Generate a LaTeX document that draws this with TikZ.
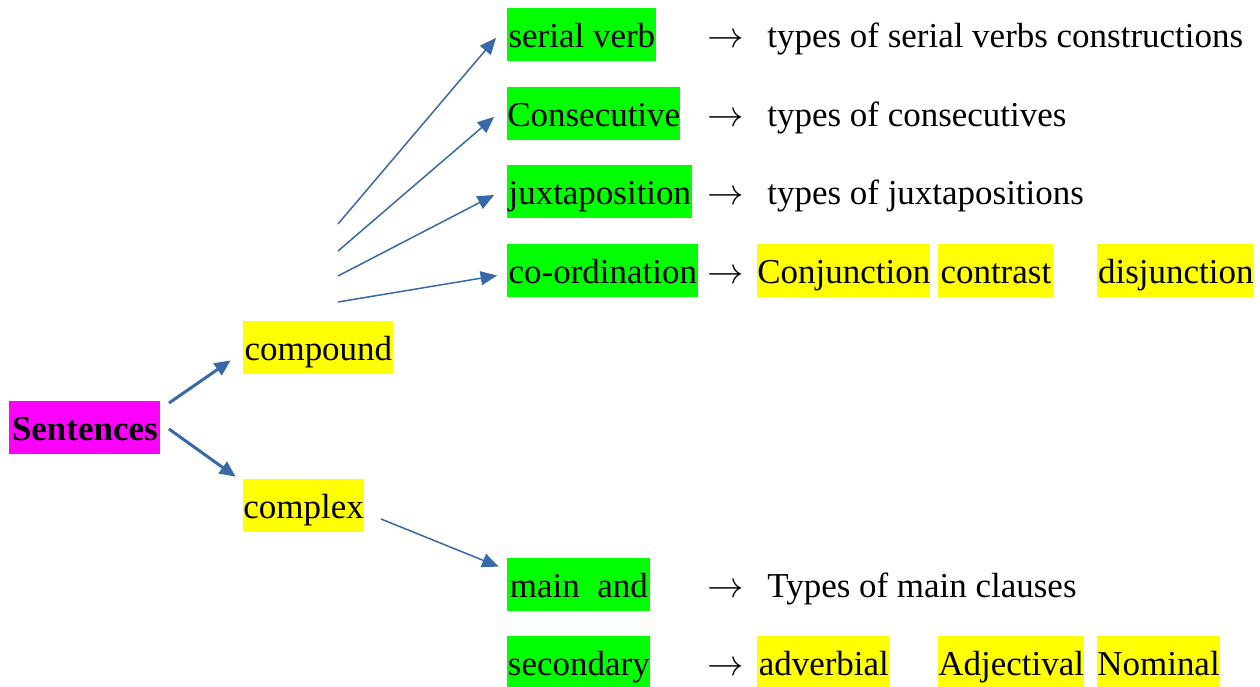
\documentclass[tikz,border=0pt]{standalone}
\usepackage{fontspec}
\setmainfont{Liberation Serif}
\usetikzlibrary{arrows.meta,calc}
\definecolor{linkblue}{RGB}{55,105,170}
\definecolor{hlyellow}{RGB}{255,255,0}
\definecolor{hlgreen}{RGB}{0,255,0}
\definecolor{hlmagenta}{RGB}{255,0,255}
\begin{document}
\begin{tikzpicture}[x=0.02cm,y=-0.02cm,
  font=\fontsize{19.9pt}{24pt}\selectfont,
  hbox/.style={anchor=north west,inner sep=0pt,minimum height=1.06cm,
    text height=0.79cm,text depth=0.27cm},
  ybox/.style={hbox,fill=hlyellow},
  gbox/.style={hbox,fill=hlgreen},
  mbox/.style={hbox,fill=hlmagenta,font=\fontsize{19.9pt}{24pt}\selectfont\bfseries},
  plain/.style={anchor=base west,inner sep=0pt},
  sym/.style={anchor=base,inner sep=0pt},
  bigarrow/.style={draw=linkblue,line width=1.7pt,
    -{Triangle[length=0.32cm,width=0.28cm]}},
  thinarrow/.style={draw=linkblue,line width=0.85pt,
    -{Triangle[length=0.33cm,width=0.28cm]}}]
\useasboundingbox (0,0) rectangle (1260,686);

% root and first level
\node[mbox,minimum width=151*0.02cm] (st) at (9,401) {Sentences};
\node[ybox,minimum width=150*0.02cm] (cp) at (243,321) {compound};
\node[ybox,minimum width=120*0.02cm] (cx) at (243,479) {complex};

% compound sentence types
\node[gbox,minimum width=149*0.02cm] (sv) at (507,8) {serial verb};
\node[gbox,minimum width=171*0.02cm] (cs) at (507,87) {Consecutive};
\node[gbox,minimum width=185*0.02cm] (jx) at (507,165) {juxtaposition};
\node[gbox,minimum width=191*0.02cm] (co) at (507,244) {co-ordination};

% complex sentence types
\node[gbox,minimum width=143*0.02cm] (ma) at (507,558) {main~ and};
\node[gbox,minimum width=143*0.02cm] (sc) at (507,636) {secondary};

% co-ordination kinds
\node[ybox,minimum width=173*0.02cm] (cj) at (757,244) {Conjunction};
\node[ybox,minimum width=115*0.02cm] (ct) at (938,244) {contrast};
\node[ybox,minimum width=157*0.02cm] (dj) at (1097,244) {disjunction};

% secondary clause kinds
\node[ybox,minimum width=133*0.02cm] (ad) at (757,636) {adverbial};
\node[ybox,minimum width=144*0.02cm] (aj) at (938,636) {Adjectival};
\node[ybox,minimum width=121*0.02cm] (nm) at (1097,636) {Nominal};

% arrow glyphs and descriptions
\node[sym] (ar1) at (726,47.5) {$\rightarrow$};
\node[sym] (ar2) at (726,126.5) {$\rightarrow$};
\node[sym] (ar3) at (726,204.5) {$\rightarrow$};
\node[sym] (ar4) at (726,283.5) {$\rightarrow$};
\node[sym] (ar5) at (726,597.5) {$\rightarrow$};
\node[sym] (ar6) at (726,675.5) {$\rightarrow$};
\node[plain] (tx1) at (767,47.5) {types of serial verbs constructions};
\node[plain] (tx2) at (767,126.5) {types of consecutives};
\node[plain] (tx3) at (767,204.5) {types of juxtapositions};
\node[plain] (tx5) at (767,597.5) {Types of main clauses};

% connector tails
\coordinate (t1) at (169,403);
\coordinate (t2) at (169,429);
\coordinate (f1) at (338,224);
\coordinate (f2) at (338,251);
\coordinate (f3) at (338,276);
\coordinate (f4) at (338,302);
\coordinate (c1) at (381,519);

% connectors
\draw[bigarrow,shorten >=0.3cm] (t1) -- ($(cp.west)+(0,4)$);
\draw[bigarrow,shorten >=0.18cm] (t2) -- ($(cx.north west)+(0,3)$);
\draw[thinarrow,shorten >=0.34cm] (f1) -- ($(sv.west)+(0,-10)$);
\draw[thinarrow,shorten >=0.34cm] (f2) -- ($(cs.west)+(0,-8)$);
\draw[thinarrow,shorten >=0.29cm] (f3) -- ($(jx.west)+(0,-3.5)$);
\draw[thinarrow,shorten >=0.2cm] (f4) -- ($(co.west)+(0,3)$);
\draw[thinarrow,shorten >=0.18cm] (c1) -- ($(ma.north west)+(0,12)$);
\end{tikzpicture}
\end{document}
